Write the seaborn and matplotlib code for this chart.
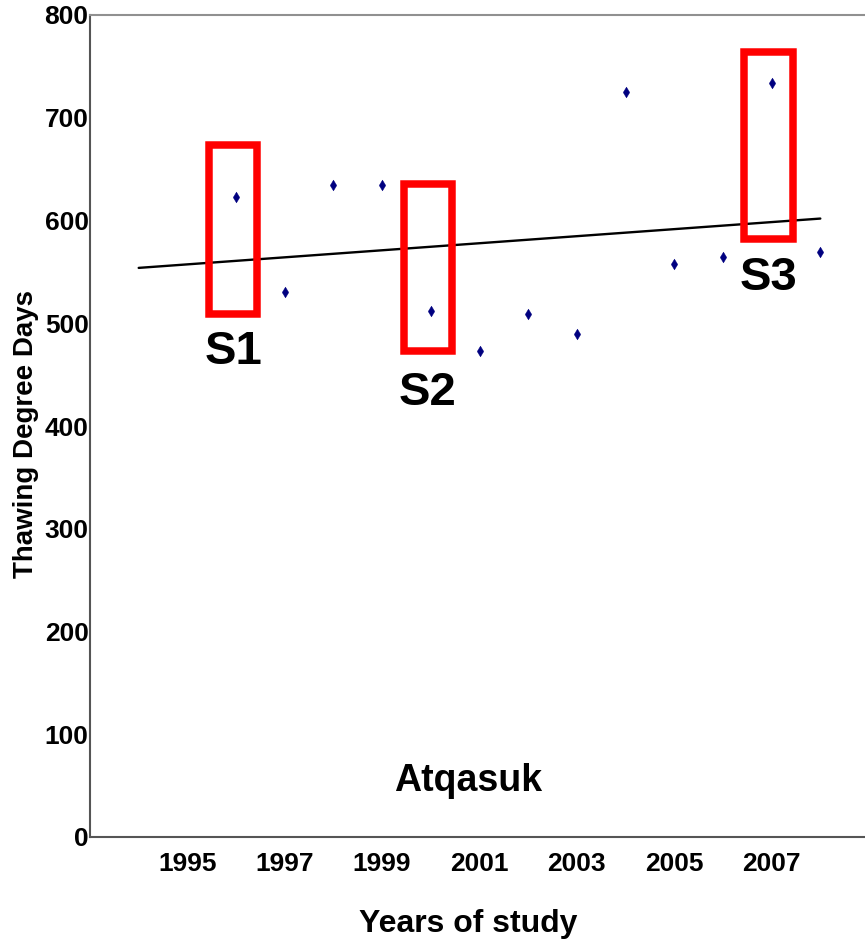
import numpy as np
import pandas as pd
import matplotlib
matplotlib.use("Agg")
import matplotlib.pyplot as plt
import seaborn as sns
from matplotlib.patches import Rectangle

# thawing degree days per year, Atqasuk
years = [1996, 1997, 1998, 1999, 2000, 2001, 2002, 2003, 2004, 2005, 2006, 2007, 2008]
tdd = [623, 530, 635, 635, 512, 473, 509, 490, 725, 558, 564, 734, 569]

# highlighted seasons
box_labels = ["S1", "S2", "S3"]
box_years = [1996, 2000, 2007]

site = "Atqasuk"
x_ticks = [1995, 1997, 1999, 2001, 2003, 2005, 2007]
y_ticks = [0, 100, 200, 300, 400, 500, 600, 700, 800]

df = pd.DataFrame({"year": years, "tdd": tdd})

# linear trend, extended back to 1994 like the excel trendline
slope, icpt = np.polyfit(df["year"], df["tdd"], 1)
trend = pd.DataFrame({"year": [1994, 2008]})
trend["tdd"] = slope * trend["year"] + icpt

sns.set_style("white")
plt.rcParams["font.family"] = ["Liberation Sans", "DejaVu Sans"]
plt.rcParams["font.weight"] = "bold"
plt.rcParams["text.color"] = "black"
plt.rcParams["axes.labelcolor"] = "black"
plt.rcParams["xtick.labelcolor"] = "black"
plt.rcParams["ytick.labelcolor"] = "black"

fig = plt.figure(figsize=(8.65, 9.44), dpi=100)
ax = fig.add_axes([90 / 865, 107 / 944, 779 / 865, 822 / 944])

sns.lineplot(data=trend, x="year", y="tdd", color="black", linewidth=1.7, ax=ax)
sns.scatterplot(data=df, x="year", y="tdd", marker="d", s=30, color="#000080",
                edgecolor="#000080", linewidth=0.3, ax=ax, zorder=3)

# red boxes around the study seasons (bottom, top in TDD; text baseline)
box_span = [(509, 673, 460), (473, 636, 420), (582, 764, 532)]
for lab, yr, (y0, y1, ty) in zip(box_labels, box_years, box_span):
    ax.add_patch(Rectangle((yr - 0.56, y0), 1.0, y1 - y0, fill=False,
                           edgecolor="#ff0000", linewidth=5.4, zorder=4))
    ax.text(yr - 0.06, ty, lab, ha="center", va="baseline", fontsize=34,
            fontweight="bold", color="black", zorder=5)

ax.text(2000.76, 45, site, ha="center", va="baseline", fontsize=27,
        fontweight="bold")

ax.set_xlim(1993, 2009)
ax.set_ylim(0, 800)
ax.set_xticks(x_ticks)
ax.set_yticks(y_ticks)
ax.set_xticklabels([str(t) for t in x_ticks], fontsize=19, fontweight="bold")
ax.set_yticklabels([str(t) for t in y_ticks], fontsize=19, fontweight="bold")
ax.tick_params(axis="x", direction="out", length=5, width=1, color="#444444", pad=6)
ax.tick_params(axis="y", direction="out", length=3, width=1, color="#444444", pad=-2)

ax.set_xlabel("Years of study", fontsize=23, fontweight="bold")
ax.set_ylabel("Thawing Degree Days", fontsize=20, fontweight="bold")
ax.xaxis.set_label_coords(0.485, -0.088)
ax.yaxis.set_label_coords(-0.066, 0.49)

ax.spines["right"].set_visible(False)
ax.spines["top"].set_color("#909090")
ax.spines["top"].set_linewidth(1.5)
ax.spines["left"].set_color("#555555")
ax.spines["left"].set_linewidth(1.5)
ax.spines["bottom"].set_color("#555555")
ax.spines["bottom"].set_linewidth(1.5)

fig.savefig("out.png", dpi=100)
